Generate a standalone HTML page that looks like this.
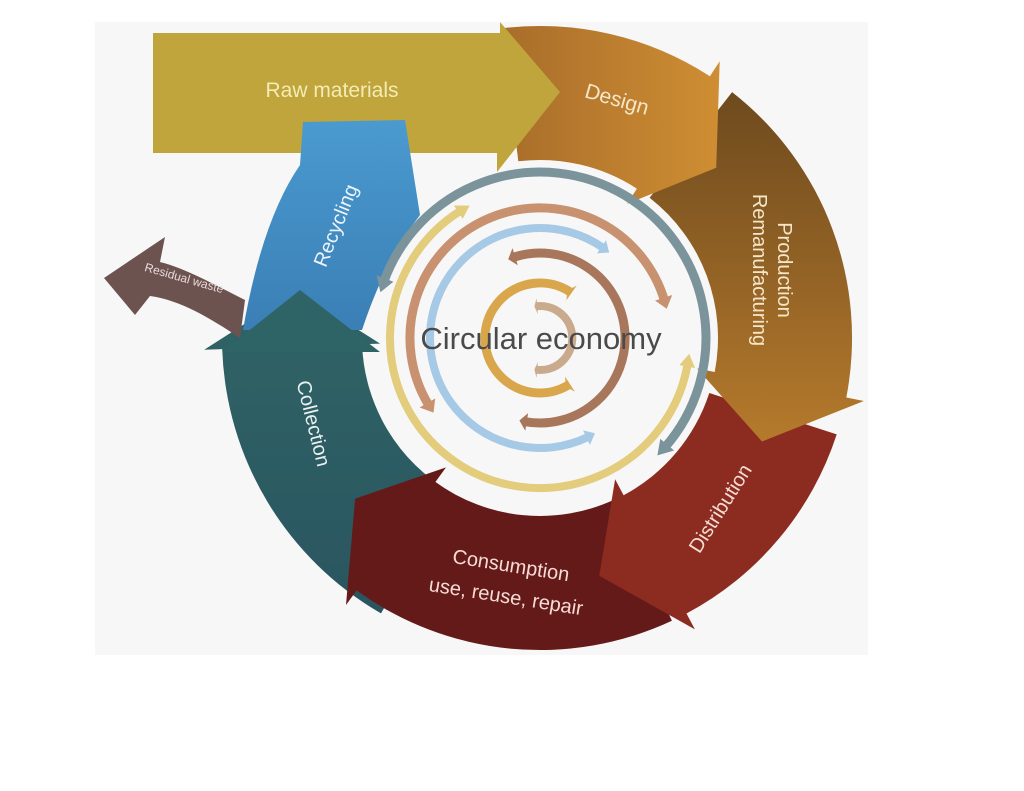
<!DOCTYPE html>
<html><head><meta charset="utf-8"><style>
html,body{margin:0;padding:0;background:#fff;width:1024px;height:791px;overflow:hidden}
svg{display:block}
text{font-family:"Liberation Sans",sans-serif}
</style></head><body>
<svg id="s" width="1024" height="791" viewBox="0 0 1024 791" xmlns="http://www.w3.org/2000/svg">
<defs>
<linearGradient id="gD" x1="0" y1="0" x2="1" y2="0"><stop offset="0" stop-color="#a86d2a"/><stop offset="1" stop-color="#cf8e33"/></linearGradient>
<linearGradient id="gP" x1="0" y1="0" x2="0" y2="1"><stop offset="0" stop-color="#6e4a1e"/><stop offset="1" stop-color="#b57a2c"/></linearGradient>
<linearGradient id="gR" x1="0" y1="0" x2="0" y2="1"><stop offset="0" stop-color="#4a9ad0"/><stop offset="1" stop-color="#3a7fb5"/></linearGradient>
<linearGradient id="gC" x1="0" y1="0" x2="0" y2="1"><stop offset="0" stop-color="#2f6466"/><stop offset="1" stop-color="#2a5560"/></linearGradient>
</defs>
<rect x="95" y="22" width="773" height="633" fill="#f7f7f7"/>
<g id="shapes"></g>
<g id="arcs"></g>
<text x="332" y="97" font-size="21" fill="#f4ecb4" text-anchor="middle">Raw materials</text>
<text transform="translate(615,106) rotate(16)" font-size="21" fill="#f6e6c8" text-anchor="middle">Design</text>
<text transform="translate(778,270) rotate(90)" font-size="20" fill="#f6e6c8" text-anchor="middle">Production</text>
<text transform="translate(753,270) rotate(90)" font-size="20" fill="#f6e6c8" text-anchor="middle">Remanufacturing</text>
<text transform="translate(726,512) rotate(-58)" font-size="20" fill="#f6dcd4" text-anchor="middle">Distribution</text>
<text transform="translate(510,572) rotate(9)" font-size="20" fill="#f6dcd4" text-anchor="middle">Consumption</text>
<text transform="translate(505,603) rotate(9)" font-size="20" fill="#f6dcd4" text-anchor="middle">use, reuse, repair</text>
<text transform="translate(307,425) rotate(76)" font-size="20" fill="#e8f0f0" text-anchor="middle">Collection</text>
<text transform="translate(342,228) rotate(-68)" font-size="20" fill="#eaf2fa" text-anchor="middle">Recycling</text>
<text transform="translate(183,282) rotate(16)" font-size="12" fill="#eadada" text-anchor="middle">Residual waste</text>
<text x="541" y="349" font-size="31" fill="#4a4a4a" text-anchor="middle">Circular economy</text>
</svg>
<script>
var cx=540,cy=338,R1=178,R2=312,D=Math.PI/180;
function P(r,a){return (cx+r*Math.cos(a*D)).toFixed(1)+","+(cy+r*Math.sin(a*D)).toFixed(1);}
function seg(a0,a1,at,fill,ri,ro,ext){ri=ri||R1;ro=ro||R2;ext=ext||18;
 var rm=(ri+ro)/2;
 return '<path fill="'+fill+'" d="M'+P(ro,a0)+' A'+ro+','+ro+' 0 0 1 '+P(ro,a1)+' L'+P(ro+ext,a1)+' L'+P(rm,at)+' L'+P(ri-ext,a1)+' L'+P(ri,a1)+' A'+ri+','+ri+' 0 0 0 '+P(ri,a0)+' Z"/>';}
var h='';
h+=seg(120,178,191,'url(#gC)',178,318);
h+='<path fill="#6d5350" d="M245,300 C215,285 185,268 160,262 L165,237 L104,278 L135,315 L150,296 C180,300 210,318 240,338 Z"/>';
h+=seg(65,126,139,'#651a1a');
h+=seg(18,62,76,'#8c2c20');
h+=seg(-52,11,25,'url(#gP)');
h+=seg(-97,-57,-44,'url(#gD)');
h+='<path fill="#c0a43c" d="M153,33 L500,33 L500,22 L560,92 L497,172 L497,153 L153,153 Z"/>';
h+='<path fill="url(#gR)" d="M303,122 L405,120 L420,215 Q385,260 362,330 L243,330 Q262,220 300,165 Z"/>';
h+='<path fill="#2f6466" d="M222,352 L300,290 L380,352 Z"/>';
document.getElementById('shapes').innerHTML=h;
function arc(r,a0,a1,col,w){
 var s='<path fill="none" stroke="'+col+'" stroke-width="'+w+'" d="M'+P(r,a0+4)+' A'+r+','+r+' 0 '+((a1-a0-8)>180?1:0)+' 1 '+P(r,a1-4)+'"/>';
 s+='<path fill="'+col+'" d="M'+P(r-w,a0+5)+' L'+P(r,a0)+' L'+P(r+w,a0+5)+' Z"/>';
 s+='<path fill="'+col+'" d="M'+P(r-w,a1-5)+' L'+P(r,a1)+' L'+P(r+w,a1-5)+' Z"/>';
 return s;}
var a='';
a+=arc(166,196,405,'#7b939a',9);
a+=arc(150,6,242,'#e3cc7c',8);
a+=arc(130,145,347,'#c8916f',9);
a+=arc(110,60,309,'#a6c9e6',8);
a+=arc(85,-112,104,'#a8765a',9);
a+=arc(55,-60,62,'#d9a64c',9).replace(/ 0 0 1 /,' 0 1 0 ');
a+=arc(32,-100,100,'#c9aa8c',8);
document.getElementById('arcs').innerHTML=a;
</script>
</body></html>
